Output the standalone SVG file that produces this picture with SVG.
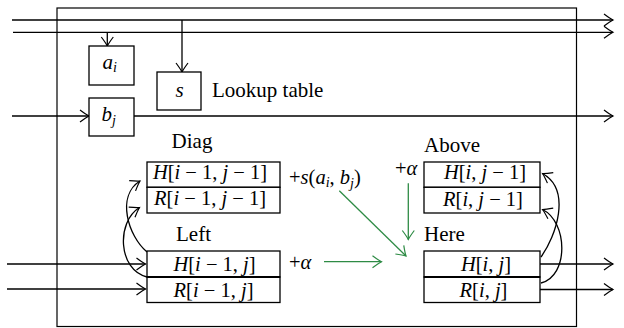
<svg xmlns="http://www.w3.org/2000/svg" width="624" height="328" viewBox="0 0 624 328">
<defs>
<marker id="ah" markerUnits="userSpaceOnUse" markerWidth="14" markerHeight="14" viewBox="-10 -7 12 14" refX="0" refY="0" orient="auto">
<path d="M-9,-6 Q-3,-1.5 0,0 Q-3,1.5 -9,6" fill="none" stroke="#000" stroke-width="1.2"/>
</marker>
<marker id="ahg" markerUnits="userSpaceOnUse" markerWidth="14" markerHeight="14" viewBox="-10 -7 12 14" refX="0" refY="0" orient="auto">
<path d="M-9,-6 Q-3,-1.5 0,0 Q-3,1.5 -9,6" fill="none" stroke="#2e8b45" stroke-width="1.2"/>
</marker>
</defs>
<style>
.box{fill:#fff;stroke:#000;stroke-width:1.3}
.ln{fill:none;stroke:#000;stroke-width:1.3}
.g{fill:none;stroke:#2e8b45;stroke-width:1.3}
text{font-family:"Liberation Serif","Times New Roman",serif;font-size:21px;fill:#000}
.m{font-size:20.5px}
.i{font-style:italic}
.sub{font-size:14px;font-style:italic}
</style>
<rect x="57" y="8" width="519.5" height="318.5" fill="none" stroke="#000" stroke-width="1.2"/>

<g id="connectors">
<path class="ln" d="M12,20 H613" marker-end="url(#ah)"/>
<path class="ln" d="M13,32.3 H613" marker-end="url(#ah)"/>
<path class="ln" d="M182,20 V72" marker-end="url(#ah)"/>
<path class="ln" d="M107.3,32.3 V46" marker-end="url(#ah)"/>
<path class="ln" d="M12,116 H89" marker-end="url(#ah)"/>
<path class="ln" d="M134,116 H613" marker-end="url(#ah)"/>
<path class="ln" d="M7,264 H145.5" marker-end="url(#ah)"/>
<path class="ln" d="M7,289 H145.5" marker-end="url(#ah)"/>
<path class="ln" d="M540,264 H613" marker-end="url(#ah)"/>
<path class="ln" d="M540,289.5 H613" marker-end="url(#ah)"/>
<path class="ln" d="M147,252 C128,236 116,196 140,181" marker-end="url(#ah)"/>
<path class="ln" d="M147,277 C118,270 116,222 139.5,207.5" marker-end="url(#ah)"/>
<path class="ln" d="M541,257 C556,236 572,190 542.5,173.5" marker-end="url(#ah)"/>
<path class="ln" d="M541,283 C569,276 568,222 542.5,209.5" marker-end="url(#ah)"/>
<path class="g" d="M339.3,190.7 L406,256" marker-end="url(#ahg)"/>
<path class="g" d="M408.3,183.3 V239.5" marker-end="url(#ahg)"/>
<path class="g" d="M324,261.7 H381.5" marker-end="url(#ahg)"/>
</g>

<g id="ai">
<rect class="box" x="89" y="46" width="45" height="39"/>
<text x="102.5" y="69"><tspan class="i">a</tspan><tspan class="sub" dy="3">i</tspan></text>
</g>
<g id="s">
<rect class="box" x="157" y="72" width="44" height="38"/>
<text x="179.5" y="97" text-anchor="middle" class="i">s</text>
<text x="212" y="97">Lookup table</text>
</g>
<g id="bj">
<rect class="box" x="89" y="98" width="45" height="38"/>
<text x="101.5" y="121"><tspan class="i">b</tspan><tspan class="sub" dy="4">j</tspan></text>
</g>

<g id="diag">
<text x="192" y="147.5" text-anchor="middle">Diag</text>
<rect class="box" x="147" y="162" width="133" height="25.3"/>
<rect class="box" x="147" y="187.3" width="133" height="25.7"/>
<text class="m" x="210" y="178.5" text-anchor="middle"><tspan class="i">H</tspan>[<tspan class="i">i</tspan> − 1, <tspan class="i">j</tspan> − 1]</text>
<text class="m" x="210" y="205" text-anchor="middle"><tspan class="i">R</tspan>[<tspan class="i">i</tspan> − 1, <tspan class="i">j</tspan> − 1]</text>
<text class="m" x="289" y="183.5">+<tspan class="i">s</tspan>(<tspan class="i">a</tspan><tspan class="sub" dy="3">i</tspan><tspan dy="-3">, </tspan><tspan class="i">b</tspan><tspan class="sub" dy="4">j</tspan><tspan dy="-4">)</tspan></text>
</g>

<g id="left">
<text x="193.5" y="241" text-anchor="middle">Left</text>
<rect class="box" x="147" y="251" width="133" height="26"/>
<rect class="box" x="147" y="277" width="133" height="25.5"/>
<line x1="147" y1="277" x2="280" y2="277" stroke="#000" stroke-width="2.2"/>
<text class="m" x="214.5" y="271" text-anchor="middle"><tspan class="i">H</tspan>[<tspan class="i">i</tspan> − 1, <tspan class="i">j</tspan>]</text>
<text class="m" x="213.5" y="296.5" text-anchor="middle"><tspan class="i">R</tspan>[<tspan class="i">i</tspan> − 1, <tspan class="i">j</tspan>]</text>
<text class="m" x="289" y="268.5">+<tspan class="i">α</tspan></text>
</g>

<g id="above">
<text x="424" y="152">Above</text>
<rect class="box" x="424" y="162" width="116" height="25.3"/>
<rect class="box" x="424" y="187.3" width="116" height="25.7"/>
<text class="m" x="485" y="179" text-anchor="middle"><tspan class="i">H</tspan>[<tspan class="i">i</tspan>, <tspan class="i">j</tspan> − 1]</text>
<text class="m" x="483" y="205.5" text-anchor="middle"><tspan class="i">R</tspan>[<tspan class="i">i</tspan>, <tspan class="i">j</tspan> − 1]</text>
<text class="m" x="395" y="175">+<tspan class="i">α</tspan></text>
</g>

<g id="here">
<text x="424" y="241">Here</text>
<rect class="box" x="424" y="251" width="116" height="26"/>
<rect class="box" x="424" y="277" width="116" height="25.5"/>
<line x1="424" y1="277" x2="540" y2="277" stroke="#000" stroke-width="2.2"/>
<text class="m" x="486" y="271" text-anchor="middle"><tspan class="i">H</tspan>[<tspan class="i">i</tspan>, <tspan class="i">j</tspan>]</text>
<text class="m" x="483.5" y="296.5" text-anchor="middle"><tspan class="i">R</tspan>[<tspan class="i">i</tspan>, <tspan class="i">j</tspan>]</text>
</g>
</svg>
